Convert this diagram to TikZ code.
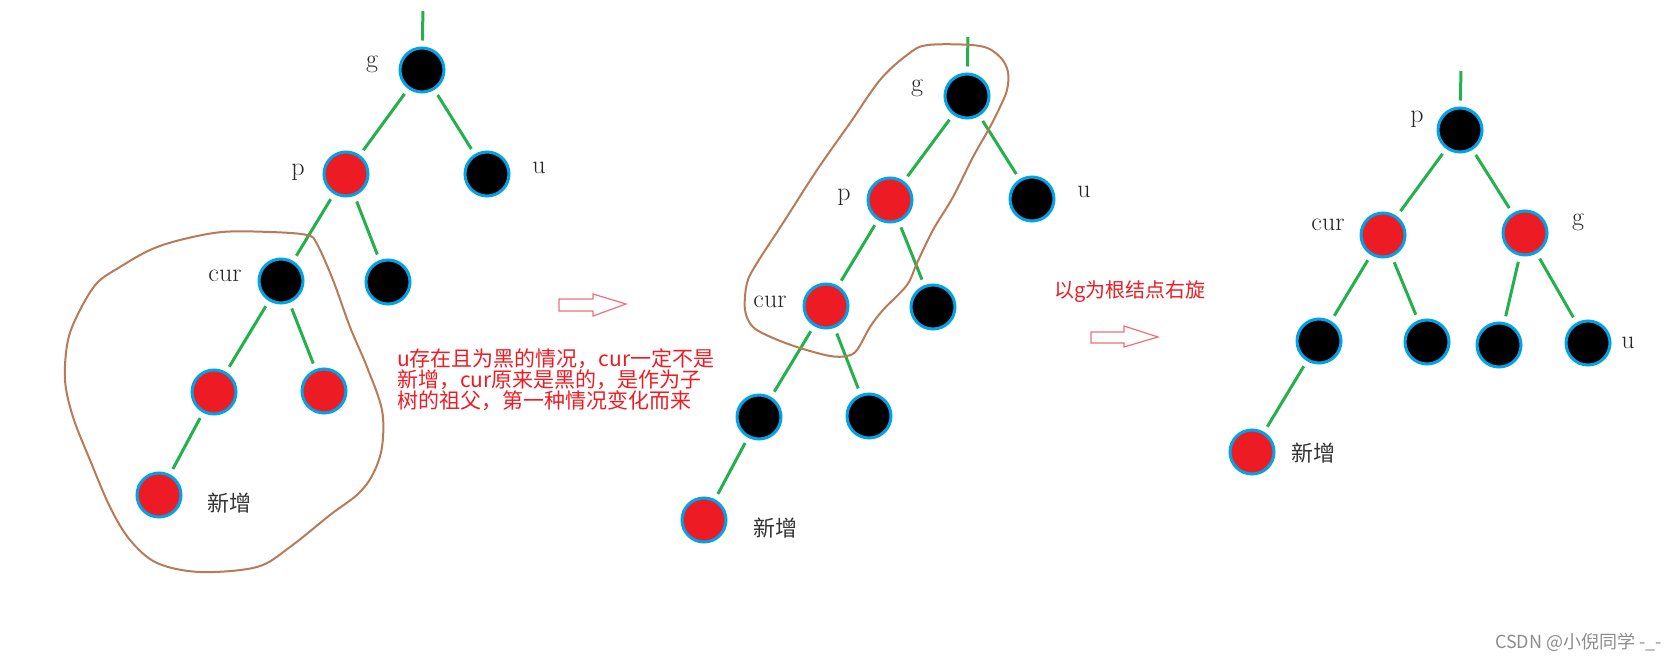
\documentclass[tikz,border=0pt]{standalone}
\usepackage{fontspec}
\newfontfamily\cjk{Noto Sans CJK SC}
\definecolor{nodeblue}{RGB}{0,162,232}
\definecolor{nodered}{RGB}{237,28,36}
\definecolor{edgegreen}{RGB}{34,177,76}
\definecolor{blobbrown}{RGB}{185,122,87}
\definecolor{arrowpink}{RGB}{240,110,120}
\definecolor{wmgray}{RGB}{140,140,140}
\tikzset{
  blk/.style={circle, draw=nodeblue, fill=black, line width=3pt, minimum size=44pt, inner sep=0pt},
  rd/.style={blk, fill=nodered},
  link/.style={draw=edgegreen, line width=3pt, shorten <=6pt, shorten >=6pt},
  blob/.style={draw=blobbrown, line width=2pt},
  hollow/.style={draw=arrowpink, line width=1.2pt, line join=miter},
  lbl/.style={inner sep=0pt, text=black!85, font=\fontsize{26}{26}\selectfont},
  newlbl/.style={inner sep=0pt, text=black!80, font=\cjk\fontsize{22}{22}\selectfont},
  note/.style={inner sep=0pt, text=nodered, align=left, font=\cjk\fontsize{21}{21}\selectfont},
  wmark/.style={inner sep=0pt, text=wmgray, font=\cjk\fontsize{18}{18}\selectfont}
}
\begin{document}
\begin{tikzpicture}[x=1pt, y=-1pt]
    \useasboundingbox (0,0) rectangle (1677,660);
    % before: left tree
    \coordinate (topA) at (423,5);
    \node[blk] (gA) at (422,70) {};
    \node[rd] (pA) at (346,174) {};
    \node[blk] (uA) at (487,174) {};
    \node[blk] (curA) at (281,281) {};
    \node[blk] (sA) at (388,282) {};
    \node[rd] (lA) at (214,392) {};
    \node[rd] (rA) at (324,391) {};
    \node[rd] (nA) at (159,495) {};
    \draw[link] (topA) -- (gA);
    \draw[link] (gA) -- (pA);
    \draw[link] (gA) -- (uA);
    \draw[link] (pA) -- (curA);
    \draw[link] (pA) -- (sA);
    \draw[link] (curA) -- (lA);
    \draw[link] (curA) -- (rA);
    \draw[link] (lA) -- (nA);
    \node[lbl] (gAl) at (372,64) {g};
    \node[lbl] (pAl) at (298,172) {p};
    \node[lbl] (uAl) at (539,168) {u};
    \node[lbl] (curAl) at (225,276) {cur};
    \node[newlbl] (nAl) at (229,503) {新增};
    \draw[blob] plot[smooth cycle, tension=0.55] coordinates {
        (222,232) (270,232) (307,235) (317,244) (333,280) (350,327) (367,367)
        (382,410) (382,447) (373,474) (358,494) (330,515) (290,547) (257,567)
        (200,572) (157,563) (130,540) (110,507) (90,460) (73,417) (65,380)
        (68,340) (80,310) (97,283) (120,267) (150,250) (180,240)};
    % first arrow and note
    \draw[hollow] (559,299) -- (593,299) -- (593,294) -- (626,304) -- (593,316) -- (593,311) -- (559,311) -- cycle;
    \node[note, anchor=west] (noteA) at (397,380)
        {u存在且为黑的情况，cur一定不是\\新增，cur原来是黑的，是作为子\\树的祖父，第一种情况变化而来};
    % middle tree
    \coordinate (topB) at (968,31);
    \node[blk] (gB) at (967,96) {};
    \node[rd] (pB) at (890,200) {};
    \node[blk] (uB) at (1032,199) {};
    \node[rd] (curB) at (826,306) {};
    \node[blk] (sB) at (933,307) {};
    \node[blk] (lB) at (759,417) {};
    \node[blk] (rB) at (869,416) {};
    \node[rd] (nB) at (704,520) {};
    \draw[link] (topB) -- (gB);
    \draw[link] (gB) -- (pB);
    \draw[link] (gB) -- (uB);
    \draw[link] (pB) -- (curB);
    \draw[link] (pB) -- (sB);
    \draw[link] (curB) -- (lB);
    \draw[link] (curB) -- (rB);
    \draw[link] (lB) -- (nB);
    \node[lbl] (gBl) at (917,88) {g};
    \node[lbl] (pBl) at (844,197) {p};
    \node[lbl] (uBl) at (1084,192) {u};
    \node[lbl] (curBl) at (770,302) {cur};
    \node[newlbl] (nBl) at (775,528) {新增};
    \draw[blob] plot[smooth cycle, tension=0.55] coordinates {
        (928,45) (980,46) (1000,57) (1008,72) (1007,90) (1000,107) (990,127)
        (973,157) (953,197) (933,230) (917,263) (907,285) (883,310) (870,327)
        (857,350) (847,356) (830,356) (800,348) (773,338) (753,327) (745,310)
        (747,283) (757,263) (783,223) (817,170) (850,123) (880,80) (907,55)};
    % second arrow and note
    \node[note, font=\cjk\fontsize{20}{20}\selectfont] (noteB) at (1130,292) {以g为根结点右旋};
    \draw[hollow] (1091,332) -- (1124,332) -- (1124,326) -- (1158,337) -- (1124,347) -- (1124,343) -- (1091,343) -- cycle;
    % after rotation
    \coordinate (topC) at (1461,65);
    \node[blk] (pC) at (1460,130) {};
    \node[rd] (curC) at (1383,235) {};
    \node[rd] (gC) at (1525,233) {};
    \node[blk] (lC) at (1319,341) {};
    \node[blk] (rC) at (1427,342) {};
    \node[blk] (glC) at (1499,345) {};
    \node[blk] (uC) at (1588,343) {};
    \node[rd] (nC) at (1252,452) {};
    \draw[link] (topC) -- (pC);
    \draw[link] (pC) -- (curC);
    \draw[link] (pC) -- (gC);
    \draw[link] (curC) -- (lC);
    \draw[link] (curC) -- (rC);
    \draw[link] (gC) -- (glC);
    \draw[link] (gC) -- (uC);
    \draw[link] (lC) -- (nC);
    \node[lbl] (pCl) at (1417,119) {p};
    \node[lbl] (curCl) at (1328,225) {cur};
    \node[lbl] (gCl) at (1578,222) {g};
    \node[lbl] (uCl) at (1628,343) {u};
    \node[newlbl] (nCl) at (1313,453) {新增};
    \node[wmark, anchor=east] (wm) at (1662,642) {CSDN @小倪同学 -\_-};
\end{tikzpicture}
\end{document}
